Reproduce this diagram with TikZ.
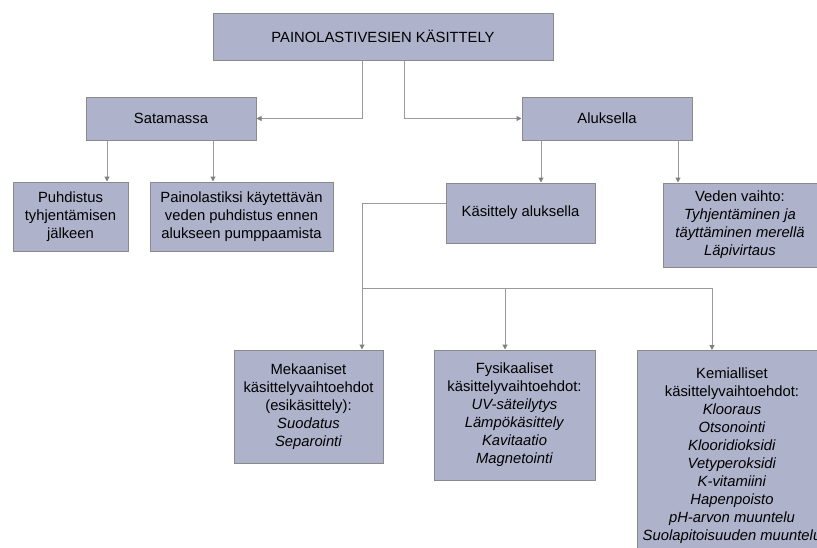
\documentclass[tikz,border=0pt]{standalone}
\usepackage{fontspec}
\setmainfont{Liberation Sans}
\usetikzlibrary{arrows.meta}
\definecolor{boxfill}{HTML}{AEB3CB}
\definecolor{boxline}{HTML}{8A8A8A}
\definecolor{conline}{HTML}{9A9A9A}
\begin{document}
\begin{tikzpicture}[x=1pt,y=-1pt,
    box/.style={draw=boxline,fill=boxfill,line width=1pt,align=center,inner sep=0pt,
      font=\fontsize{14.8}{18}\selectfont},
    con/.style={draw=conline,line width=1pt},
    arr/.style={con,-{Triangle[length=5pt,width=5pt,color=gray]}}]
  \clip (0,0) rectangle (817,547);
  \node[box,minimum width=340,minimum height=47] (T) at (383,36.5) {PAINOLASTIVESIEN K\"ASITTELY};
  \node[box,minimum width=170,minimum height=43] (S) at (171,118.5) {Satamassa};
  \node[box,minimum width=170,minimum height=43] (A) at (607,118.5) {Aluksella};
  \node[box,minimum width=115,minimum height=69] (P) at (70.5,216.5) {Puhdistus\\tyhjentämisen\\jälkeen};
  \node[box,minimum width=183,minimum height=69] (V) at (241.5,216.5) {Painolastiksi käytettävän\\veden puhdistus ennen\\alukseen pumppaamista};
  \node[box,minimum width=149,minimum height=60] (K) at (520.5,213) {Käsittely aluksella};
  \node[box,minimum width=154,minimum height=84] (W) at (740,225) {Veden vaihto:\\\textit{Tyhjentäminen ja}\\\textit{täyttäminen merellä}\\\textit{Läpivirtaus}};
  \node[box,minimum width=149,minimum height=113] (M) at (308.5,406.5) {Mekaaniset\\käsittelyvaihtoehdot\\(esikäsittely):\\\textit{Suodatus}\\\textit{Separointi}};
  \node[box,minimum width=161,minimum height=130] (F) at (514.5,415) {Fysikaaliset\\käsittelyvaihtoehdot:\\\textit{UV-säteilytys}\\\textit{Lämpökäsittely}\\\textit{Kavitaatio}\\\textit{Magnetointi}};
  \node[box,minimum width=190,minimum height=210,anchor=north] (C) at (732,350) {Kemialliset\\käsittelyvaihtoehdot:\\\textit{Klooraus}\\\textit{Otsonointi}\\\textit{Klooridioksidi}\\\textit{Vetyperoksidi}\\\textit{K-vitamiini}\\\textit{Hapenpoisto}\\\textit{pH-arvon muuntelu}\\\textit{Suolapitoisuuden muuntelu}};
  \coordinate (B) at (362,288);
  \coordinate (BF) at (505,288);
  \coordinate (BC) at (712,288);
  \draw[arr] ([xshift=-21pt]T.south) |- (S.east);
  \draw[arr] ([xshift=21pt]T.south) |- (A.west);
  \draw[arr] ([xshift=-64pt]S.south) -- ([xshift=-64pt]S.south |- P.north);
  \draw[arr] ([xshift=42pt]S.south) -- ([xshift=42pt]S.south |- V.north);
  \draw[arr] ([xshift=-66pt]A.south) -- ([xshift=-66pt]A.south |- K.north);
  \draw[arr] ([xshift=71pt]A.south) -- ([xshift=71pt]A.south |- W.north);
  \draw[con] ([yshift=10pt]K.west) -| (B) -- (BC);
  \draw[arr] (B) -- (B |- M.north);
  \draw[arr] (BF) -- (BF |- F.north);
  \draw[arr] (BC) -- (BC |- C.north);
\end{tikzpicture}
\end{document}
